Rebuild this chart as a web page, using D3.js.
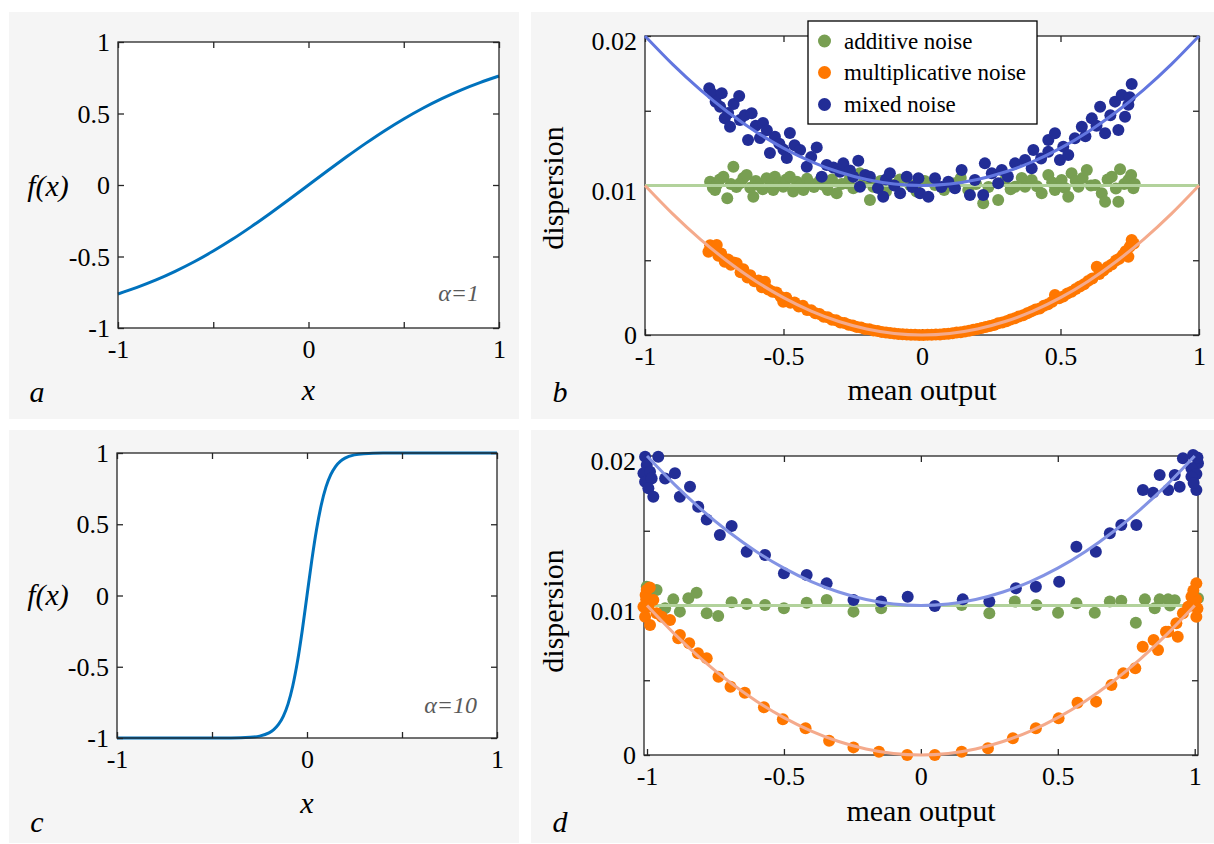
<!DOCTYPE html>
<html><head><meta charset="utf-8">
<script src="https://cdn.jsdelivr.net/npm/d3@7/dist/d3.min.js"></script>
<style>
html,body{margin:0;padding:0;background:#fff;}
svg text{font-family:"Liberation Serif","Tinos","DejaVu Serif",serif !important;}
</style></head>
<body><svg id="chart" width="1214" height="844"></svg>
<script>
// ---------- data ----------
const fTicks = [-1, -0.5, 0, 0.5, 1];
const fXLabels = [-1, 0, 1];
const fYLabels = [-1, -0.5, 0, 0.5, 1];
const meanTicks = [-1, -0.5, 0, 0.5, 1];
const dispTicks = [0, 0.005, 0.01, 0.015, 0.02];
const dispLabels = [0, 0.01, 0.02];
const legendLabels = ["additive noise", "multiplicative noise", "mixed noise"];
const alphaLabels = ["α=1", "α=10"];

const curveAX = [-1,-0.9,-0.8,-0.7,-0.6,-0.5,-0.4,-0.3,-0.2,-0.1,0,0.1,0.2,0.3,0.4,0.5,0.6,0.7,0.8,0.9,1];
const curveAY = [-0.762,-0.716,-0.664,-0.604,-0.537,-0.462,-0.380,-0.291,-0.197,-0.100,0,0.100,0.197,0.291,0.380,0.462,0.537,0.604,0.664,0.716,0.762];

const curveCX = [-1,-0.6,-0.4,-0.3,-0.25,-0.2,-0.175,-0.15,-0.125,-0.1,-0.075,-0.05,-0.025,0,0.025,0.05,0.075,0.1,0.125,0.15,0.175,0.2,0.25,0.3,0.4,0.6,1];
const curveCY = [-1,-1,-0.9993,-0.995,-0.987,-0.964,-0.941,-0.905,-0.848,-0.762,-0.635,-0.462,-0.245,0,0.245,0.462,0.635,0.762,0.848,0.905,0.941,0.964,0.987,0.995,0.9993,1,1];

const fitX = [-1,-0.9,-0.8,-0.7,-0.6,-0.5,-0.4,-0.3,-0.2,-0.1,0,0.1,0.2,0.3,0.4,0.5,0.6,0.7,0.8,0.9,1];
const fitAdditive = [0.01,0.01,0.01,0.01,0.01,0.01,0.01,0.01,0.01,0.01,0.01,0.01,0.01,0.01,0.01,0.01,0.01,0.01,0.01,0.01,0.01];
const fitMultiplicative = [0.01,0.0081,0.0064,0.0049,0.0036,0.0025,0.0016,0.0009,0.0004,0.0001,0,0.0001,0.0004,0.0009,0.0016,0.0025,0.0036,0.0049,0.0064,0.0081,0.01];
const fitMixed = [0.02,0.0181,0.0164,0.0149,0.0136,0.0125,0.0116,0.0109,0.0104,0.0101,0.01,0.0101,0.0104,0.0109,0.0116,0.0125,0.0136,0.0149,0.0164,0.0181,0.02];

// panel b points (alpha = 1)
const bAdditive = [[-0.765,0.01025],[-0.755,0.00985],[-0.747,0.00970],[-0.741,0.01003],[-0.730,0.01040],[-0.717,0.01059],[-0.703,0.00914],[-0.690,0.01010],[-0.681,0.01126],[-0.670,0.00990],[-0.657,0.01015],[-0.645,0.01050],[-0.633,0.01070],[-0.620,0.00985],[-0.609,0.00925],[-0.600,0.01030],[-0.591,0.01003],[-0.575,0.00975],[-0.561,0.01048],[-0.545,0.01010],[-0.537,0.00970],[-0.531,0.01059],[-0.515,0.01020],[-0.501,0.00992],[-0.490,0.01040],[-0.477,0.01059],[-0.465,0.00960],[-0.452,0.01025],[-0.440,0.01000],[-0.428,0.00970],[-0.415,0.01045],[-0.404,0.01015],[-0.390,0.00990],[-0.370,0.01030],[-0.356,0.01003],[-0.340,0.00970],[-0.325,0.01040],[-0.308,0.00948],[-0.290,0.01010],[-0.272,0.01015],[-0.260,0.01050],[-0.248,0.00981],[-0.224,0.01082],[-0.210,0.01020],[-0.188,0.00903],[-0.176,0.00992],[-0.150,0.01030],[-0.130,0.00960],[-0.104,0.01003],[-0.080,0.01040],[-0.043,0.01003],[-0.020,0.00960],[0.010,0.01030],[0.047,0.01003],[0.080,0.00970],[0.119,0.01015],[0.140,0.01050],[0.167,0.00970],[0.195,0.01010],[0.221,0.00881],[0.240,0.00990],[0.275,0.00903],[0.300,0.01037],[0.320,0.00975],[0.336,0.00992],[0.360,0.01050],[0.372,0.00992],[0.396,0.01037],[0.415,0.00995],[0.432,0.00948],[0.456,0.01070],[0.470,0.01020],[0.480,0.00970],[0.504,0.01037],[0.515,0.00985],[0.528,0.00925],[0.540,0.01082],[0.555,0.01030],[0.565,0.00992],[0.580,0.01050],[0.595,0.01104],[0.610,0.01000],[0.625,0.01003],[0.649,0.00948],[0.661,0.00892],[0.670,0.01040],[0.685,0.01059],[0.700,0.00980],[0.709,0.00892],[0.715,0.01108],[0.730,0.01010],[0.745,0.01037],[0.755,0.01070],[0.763,0.00981],[0.768,0.01010]];
const bMultiplicative = [[-0.771,0.00557],[-0.765,0.00600],[-0.755,0.00585],[-0.741,0.00602],[-0.735,0.00530],[-0.725,0.00545],[-0.712,0.00490],[-0.700,0.00505],[-0.690,0.00470],[-0.680,0.00485],[-0.669,0.00480],[-0.655,0.00420],[-0.645,0.00440],[-0.630,0.00385],[-0.620,0.00400],[-0.605,0.00360],[-0.590,0.00365],[-0.578,0.00320],[-0.567,0.00357],[-0.555,0.00305],[-0.540,0.00290],[-0.525,0.00285],[-0.510,0.00255],[-0.501,0.00223],[-0.490,0.00250],[-0.475,0.00215],[-0.460,0.00218],[-0.445,0.00190],[-0.430,0.00195],[-0.415,0.00168],[-0.400,0.00165],[-0.385,0.00145],[-0.370,0.00140],[-0.355,0.00122],[-0.340,0.00118],[-0.325,0.00102],[-0.310,0.00098],[-0.295,0.00084],[-0.280,0.00080],[-0.265,0.00068],[-0.250,0.00064],[-0.235,0.00054],[-0.220,0.00050],[-0.205,0.00040],[-0.190,0.00038],[-0.175,0.00030],[-0.160,0.00026],[-0.145,0.00020],[-0.130,0.00017],[-0.115,0.00013],[-0.100,0.00010],[-0.085,0.00007],[-0.070,0.00005],[-0.055,0.00003],[-0.040,0.00002],[-0.025,0.00001],[-0.010,0.00000],[0.005,0.00000],[0.020,0.00001],[0.035,0.00001],[0.050,0.00003],[0.065,0.00004],[0.080,0.00007],[0.095,0.00009],[0.110,0.00012],[0.125,0.00016],[0.140,0.00019],[0.155,0.00024],[0.170,0.00029],[0.185,0.00035],[0.200,0.00040],[0.215,0.00046],[0.230,0.00053],[0.245,0.00060],[0.260,0.00067],[0.275,0.00078],[0.290,0.00084],[0.305,0.00092],[0.320,0.00104],[0.335,0.00112],[0.350,0.00124],[0.365,0.00132],[0.380,0.00146],[0.395,0.00158],[0.410,0.00170],[0.425,0.00178],[0.440,0.00196],[0.455,0.00205],[0.470,0.00222],[0.480,0.00268],[0.495,0.00245],[0.510,0.00258],[0.525,0.00278],[0.540,0.00290],[0.555,0.00308],[0.570,0.00325],[0.585,0.00340],[0.600,0.00362],[0.615,0.00378],[0.631,0.00457],[0.640,0.00408],[0.655,0.00432],[0.670,0.00455],[0.685,0.00472],[0.700,0.00498],[0.712,0.00510],[0.725,0.00535],[0.735,0.00560],[0.745,0.00524],[0.750,0.00590],[0.757,0.00635],[0.765,0.00612]];
const bMixed = [[-0.768,0.01650],[-0.755,0.01610],[-0.745,0.01560],[-0.723,0.01617],[-0.729,0.01527],[-0.700,0.01485],[-0.712,0.01450],[-0.693,0.01393],[-0.680,0.01545],[-0.660,0.01599],[-0.657,0.01438],[-0.640,0.01470],[-0.628,0.01304],[-0.615,0.01483],[-0.600,0.01400],[-0.585,0.01318],[-0.574,0.01418],[-0.560,0.01370],[-0.549,0.01217],[-0.531,0.01326],[-0.515,0.01280],[-0.500,0.01240],[-0.488,0.01184],[-0.477,0.01351],[-0.460,0.01270],[-0.440,0.01237],[-0.416,0.01126],[-0.400,0.01190],[-0.380,0.01255],[-0.362,0.01059],[-0.344,0.01137],[-0.320,0.01120],[-0.296,0.01092],[-0.284,0.01148],[-0.260,0.01100],[-0.248,0.01059],[-0.230,0.01166],[-0.224,0.00992],[-0.205,0.01070],[-0.188,0.01059],[-0.159,0.00983],[-0.140,0.00925],[-0.130,0.01040],[-0.116,0.01082],[-0.100,0.01000],[-0.079,0.00948],[-0.055,0.01059],[-0.035,0.00990],[-0.007,0.00948],[-0.013,0.01048],[0.023,0.00925],[0.047,0.01048],[0.070,0.00990],[0.095,0.01025],[0.119,0.00981],[0.143,0.01104],[0.173,0.00936],[0.191,0.01037],[0.221,0.00936],[0.227,0.01148],[0.252,0.01082],[0.275,0.01015],[0.288,0.01104],[0.310,0.01060],[0.336,0.01148],[0.372,0.01171],[0.396,0.01115],[0.402,0.01237],[0.430,0.01180],[0.456,0.01304],[0.456,0.01226],[0.480,0.01349],[0.498,0.01171],[0.510,0.01260],[0.528,0.01204],[0.552,0.01316],[0.577,0.01393],[0.590,0.01330],[0.613,0.01449],[0.630,0.01400],[0.643,0.01527],[0.661,0.01349],[0.680,0.01470],[0.697,0.01561],[0.709,0.01371],[0.721,0.01605],[0.733,0.01460],[0.745,0.01540],[0.757,0.01679],[0.750,0.01590]];

// panel d points (alpha = 10)
const dAdditive = [[-1.001,0.01126],[-0.965,0.01104],[-0.934,0.00981],[-0.904,0.01041],[-0.849,0.01048],[-0.819,0.01086],[-0.880,0.00959],[-0.782,0.00948],[-0.740,0.00930],[-0.691,0.01021],[-0.636,0.01010],[-0.569,0.01003],[-0.500,0.00981],[-0.417,0.01019],[-0.344,0.01037],[-0.246,0.00959],[-0.145,0.00981],[0.149,0.01003],[0.250,0.00948],[0.343,0.01026],[0.422,0.01003],[0.501,0.00952],[0.568,0.01015],[0.635,0.00952],[0.690,0.01026],[0.732,0.01032],[0.785,0.00885],[0.818,0.01041],[0.854,0.00981],[0.872,0.01041],[0.903,0.01041],[0.927,0.01035],[0.910,0.01000],[1.012,0.01048],[-0.990,0.01050],[0.990,0.01010]];
const dMultiplicative = [[-1.001,0.01104],[-1.003,0.01040],[-0.995,0.00992],[-1.007,0.00925],[-0.989,0.00870],[-0.965,0.00948],[-0.946,0.00925],[-0.916,0.00903],[-0.977,0.01037],[-1.013,0.00992],[-1.005,0.01070],[-0.990,0.01120],[-0.880,0.00803],[-0.886,0.00781],[-0.846,0.00747],[-0.814,0.00680],[-0.782,0.00647],[-0.739,0.00524],[-0.695,0.00457],[-0.643,0.00417],[-0.573,0.00319],[-0.504,0.00239],[-0.421,0.00179],[-0.335,0.00096],[-0.246,0.00051],[-0.153,0.00022],[-0.050,0.00000],[0.051,0.00000],[0.149,0.00022],[0.245,0.00045],[0.336,0.00112],[0.420,0.00179],[0.503,0.00245],[0.572,0.00350],[0.640,0.00357],[0.696,0.00468],[0.739,0.00546],[0.783,0.00580],[0.810,0.00724],[0.866,0.00702],[0.850,0.00769],[0.895,0.00825],[0.938,0.00791],[0.903,0.00825],[0.933,0.00881],[0.957,0.00948],[0.976,0.00992],[0.988,0.01059],[1.006,0.01148],[1.006,0.00925],[1.006,0.01040],[0.995,0.01100],[1.010,0.00980]];
const dMixed = [[-1.007,0.01995],[-0.959,0.01995],[-1.001,0.01940],[-1.013,0.01884],[-0.989,0.01895],[-1.007,0.01828],[-0.983,0.01850],[-0.995,0.01784],[-0.977,0.01728],[-0.934,0.01850],[-0.898,0.01884],[-0.843,0.01795],[-0.880,0.01728],[-0.813,0.01660],[-0.782,0.01576],[-0.691,0.01532],[-0.734,0.01472],[-0.636,0.01360],[-0.569,0.01338],[-0.500,0.01215],[-0.417,0.01204],[-0.344,0.01148],[-0.246,0.01037],[-0.145,0.01026],[-0.048,0.01059],[0.051,0.00997],[0.153,0.01041],[0.250,0.01026],[0.347,0.01115],[0.420,0.01126],[0.505,0.01159],[0.568,0.01393],[0.639,0.01360],[0.690,0.01483],[0.732,0.01538],[0.787,0.01538],[0.811,0.01773],[0.848,0.01755],[0.872,0.01873],[0.927,0.01873],[0.903,0.01773],[0.945,0.01795],[0.957,0.01985],[0.994,0.02007],[1.012,0.01951],[0.988,0.01918],[1.006,0.01880],[0.988,0.01862],[1.006,0.01773],[0.996,0.01820],[1.010,0.01990]];

// ---------- styles ----------
const FONT = '"Liberation Serif","Tinos","DejaVu Serif",serif';
const BG = "#f5f5f5";
const AXIS = "#262626";
const TANH = "#0072bd";
const dotColors = ["#789f52", "#ff7700", "#222d96"];
const lineColorsB = ["#b2d29b", "#f4aa8c", "#6276df"];
const lineColorsD = ["#b2d29b", "#f4aa8c", "#8393e4"];
const TICK_FS = 26, LABEL_FS = 30, LEG_FS = 23;
const DOT_R = 6;

const svg = d3.select("#chart");

function panelFrame(bg) {
  svg.append("rect").attr("x", bg[0]).attr("y", bg[1]).attr("width", bg[2]).attr("height", bg[3]).attr("fill", BG);
}

function drawAxes(g, x, y, p, xt, xl, yt, yl, yShift) {
  const fmt = v => String(v);
  const gb = g.append("g").attr("transform", `translate(0,${p.b})`)
    .call(d3.axisBottom(x).tickValues(xt).tickSize(-6).tickSizeOuter(0)
      .tickFormat(v => xl.includes(v) ? fmt(v) : ""));
  gb.selectAll("text").attr("y", 30).attr("dy", null);
  const gt = g.append("g").attr("transform", `translate(0,${p.t})`)
    .call(d3.axisTop(x).tickValues(xt).tickSize(-6).tickSizeOuter(0).tickFormat(""));
  const gl = g.append("g").attr("transform", `translate(${p.l},0)`)
    .call(d3.axisLeft(y).tickValues(yt).tickSize(-6).tickSizeOuter(0).tickPadding(8)
      .tickFormat(v => yl.includes(v) ? fmt(v) : ""));
  gl.selectAll("text").attr("dy", "0.33em").attr("y", d => yShift(d));
  const gr = g.append("g").attr("transform", `translate(${p.r},0)`)
    .call(d3.axisRight(y).tickValues(yt).tickSize(-6).tickSizeOuter(0).tickFormat(""));
  [gb, gt, gl, gr].forEach(a => {
    a.attr("font-family", FONT);
    a.select(".domain").remove();
    a.selectAll("line").attr("stroke", AXIS).attr("stroke-width", 1.3);
    a.selectAll("text").attr("fill", "#000").style("font-size", TICK_FS + "px").style("font-family", FONT);
  });
  g.append("rect").attr("x", p.l).attr("y", p.t).attr("width", p.r - p.l).attr("height", p.b - p.t)
    .attr("fill", "none").attr("stroke", AXIS).attr("stroke-width", 1.3);
}

function addText(g, txt, x, y, opts) {
  const t = g.append("text").attr("x", x).attr("y", y).text(txt)
    .style("font-size", (opts.fs || LABEL_FS) + "px")
    .style("font-family", FONT)
    .attr("text-anchor", opts.anchor || "middle")
    .attr("fill", opts.fill || "#000");
  if (opts.italic) t.style("font-style", "italic");
  if (opts.rotate) t.attr("transform", `rotate(-90,${x},${y})`);
  return t;
}

// ---------- function panels (a, c) ----------
function funcPanel(bg, p, xs, ys, letter, alphaTxt, alphaY, flabY, xlabY, letterY) {
  panelFrame(bg);
  const g = svg.append("g");
  const x = d3.scaleLinear().domain([-1, 1]).range([p.l, p.r]);
  const y = d3.scaleLinear().domain([-1, 1]).range([p.b, p.t]);
  g.append("rect").attr("x", p.l).attr("y", p.t).attr("width", p.r - p.l).attr("height", p.b - p.t).attr("fill", "#fff");
  const pts = xs.map((v, i) => [v, ys[i]]);
  g.append("path").datum(pts)
    .attr("d", d3.line().x(d => x(d[0])).y(d => y(d[1])).curve(d3.curveMonotoneX))
    .attr("fill", "none").attr("stroke", TANH).attr("stroke-width", 3);
  drawAxes(g, x, y, p, fTicks, fXLabels, fTicks, fYLabels, () => 0);
  addText(g, alphaTxt, p.r - 20, alphaY, {fs: 24, italic: true, anchor: "end", fill: "#5a5a5a"});
  addText(g, "f(x)", 48, flabY, {italic: true});
  addText(g, "x", (p.l + p.r) / 2, xlabY, {italic: true});
  addText(g, letter, 37, letterY, {italic: true});
}

funcPanel([9, 12, 510, 407], {l: 118, r: 499, t: 42, b: 328}, curveAX, curveAY, "a", alphaLabels[0], 301, 196, 400, 402);
funcPanel([9, 430, 510, 413], {l: 117, r: 497, t: 453, b: 738}, curveCX, curveCY, "c", alphaLabels[1], 713, 605, 813, 832);

// ---------- dispersion panels (b, d) ----------
function dispPanel(bg, p, xdom, series, lineCols, letter, dispY, meanY, letterY, legend) {
  panelFrame(bg);
  const g = svg.append("g");
  const x = d3.scaleLinear().domain(xdom).range([p.l, p.r]);
  const y = d3.scaleLinear().domain([0, 0.02]).range([p.b, p.t]);
  g.append("rect").attr("x", p.l).attr("y", p.t).attr("width", p.r - p.l).attr("height", p.b - p.t).attr("fill", "#fff");
  drawAxes(g, x, y, p, meanTicks, meanTicks, dispTicks, dispLabels, d => d === 0 ? 0 : 5);
  const fits = [fitAdditive, fitMultiplicative, fitMixed];
  const line = d3.line().x(d => x(d[0])).y(d => y(d[1])).curve(d3.curveNatural);
  series.forEach((s, i) => {
    g.append("g").selectAll("circle").data(s).join("circle")
      .attr("cx", d => x(d[0])).attr("cy", d => y(d[1])).attr("r", DOT_R).attr("fill", dotColors[i]);
    g.append("path").datum(fitX.map((v, k) => [v, fits[i][k]]))
      .attr("d", line).attr("fill", "none").attr("stroke", lineCols[i]).attr("stroke-width", 3);
  });
  addText(g, "dispersion", 563, dispY, {rotate: true});
  addText(g, "mean output", (p.l + p.r) / 2, meanY, {});
  addText(g, letter, 560, letterY, {italic: true});
  if (legend) {
    const lg = g.append("g");
    lg.append("rect").attr("x", 808).attr("y", 21).attr("width", 229).attr("height", 103)
      .attr("fill", "#fff").attr("stroke", "#000").attr("stroke-width", 1.3);
    const rows = [41, 72.5, 104.5];
    legendLabels.forEach((lab, i) => {
      lg.append("circle").attr("cx", 824.5).attr("cy", rows[i]).attr("r", 6.5).attr("fill", dotColors[i]);
      addText(lg, lab, 844, rows[i] + 7.5, {fs: LEG_FS, anchor: "start"});
    });
  }
}

dispPanel([531, 12, 683, 407], {l: 645, r: 1199, t: 36, b: 335}, [-1, 1],
  [bAdditive, bMultiplicative, bMixed], lineColorsB, "b", 188, 400, 402, true);
dispPanel([531, 430, 683, 413], {l: 644, r: 1198, t: 456, b: 755}, [-1.011, 1.012],
  [dAdditive, dMultiplicative, dMixed], lineColorsD, "d", 611, 821, 832, false);
</script></body></html>
